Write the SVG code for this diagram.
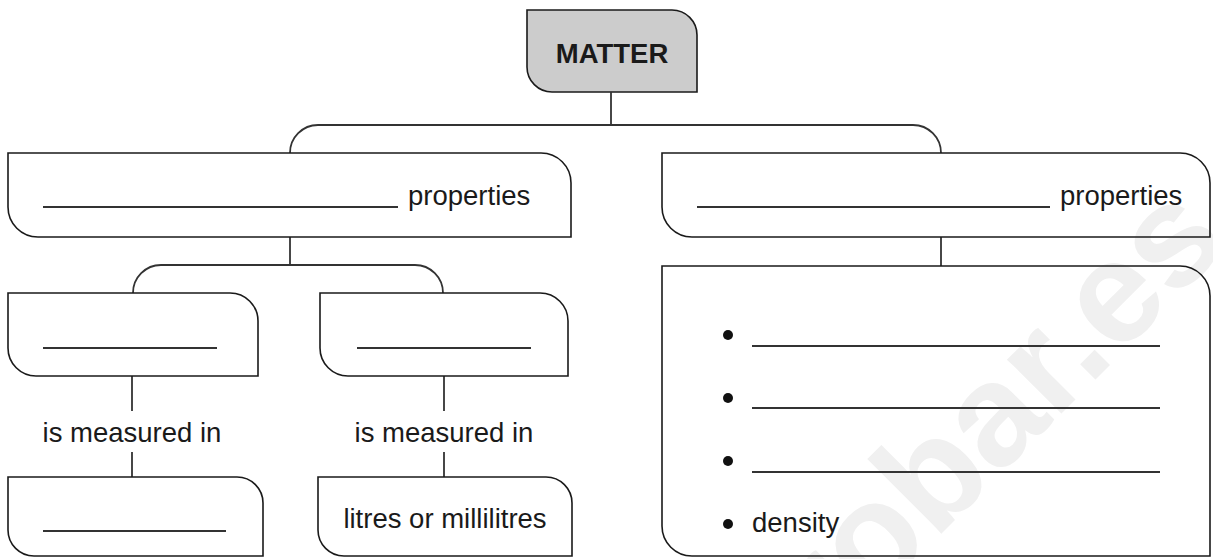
<svg xmlns="http://www.w3.org/2000/svg" width="1213" height="559" viewBox="0 0 1213 559">
<style>
.box{fill:none;stroke:#1a1a1a;stroke-width:1.6}
.conn{fill:none;stroke:#333;stroke-width:1.8}
.ul{stroke:#333;stroke-width:2}
.t{font-family:"Liberation Sans",Arial,sans-serif;font-size:27.5px;fill:#1a1a1a}
.wm{font-family:"Liberation Sans",Arial,sans-serif;font-size:145px;font-weight:bold;fill:#f0f0f0}
</style>
<rect width="1213" height="559" fill="#fff"/>
<text class="wm" transform="translate(832,643) rotate(-45)">robar.es</text>
<g id="matter">
<path d="M527,10 H672 A25,25 0 0 1 697,35 V92 H552 A25,25 0 0 1 527,67 Z" fill="#cccccc" stroke="#1a1a1a" stroke-width="1.6"/>
<text class="t" x="612" y="63" text-anchor="middle" font-weight="bold" font-size="26.5">MATTER</text>
</g>
<g id="connectors">
<path class="conn" d="M611,92 V125"/>
<path class="conn" d="M290,153 A28,28 0 0 1 318,125 H913 A28,28 0 0 1 941,153"/>
<path class="conn" d="M290,237 V265"/>
<path class="conn" d="M133,293 A28,28 0 0 1 161,265 H415 A28,28 0 0 1 443,293"/>
<path class="conn" d="M941,237 V266"/>
<path class="conn" d="M132,376 V411 M132,452 V477"/>
<path class="conn" d="M444,376 V411 M444,452 V477"/>
</g>
<g id="left-props">
<path class="box" d="M8,153 H541 A30,30 0 0 1 571,183 V237 H38 A30,30 0 0 1 8,207 Z"/>
<line class="ul" x1="43" y1="207" x2="398" y2="207"/>
<text class="t" x="408" y="205">properties</text>
</g>
<g id="right-props">
<path class="box" d="M662,153 H1180 A30,30 0 0 1 1210,183 V237 H692 A30,30 0 0 1 662,207 Z"/>
<line class="ul" x1="697" y1="207" x2="1050" y2="207"/>
<text class="t" x="1060" y="205">properties</text>
</g>
<g id="left-blank">
<path class="box" d="M8,293 H230 A28,28 0 0 1 258,321 V376 H36 A28,28 0 0 1 8,348 Z"/>
<line class="ul" x1="43" y1="348" x2="217" y2="348"/>
</g>
<g id="right-blank">
<path class="box" d="M320,293 H540 A28,28 0 0 1 568,321 V376 H348 A28,28 0 0 1 320,348 Z"/>
<line class="ul" x1="357" y1="348" x2="531" y2="348"/>
</g>
<g id="label-left"><text class="t" x="132" y="442" text-anchor="middle">is measured in</text></g>
<g id="label-right"><text class="t" x="444" y="442" text-anchor="middle">is measured in</text></g>
<g id="left-unit">
<path class="box" d="M8,477 H237 A26,26 0 0 1 263,503 V556 H34 A26,26 0 0 1 8,530 Z"/>
<line class="ul" x1="43" y1="531" x2="226" y2="531"/>
</g>
<g id="right-unit">
<path class="box" d="M318,477 H546 A26,26 0 0 1 572,503 V556 H344 A26,26 0 0 1 318,530 Z"/>
<text class="t" x="445" y="528" text-anchor="middle">litres or millilitres</text>
</g>
<g id="list">
<path class="box" d="M662,266 H1180 A30,30 0 0 1 1210,296 V556 H692 A30,30 0 0 1 662,526 Z"/>
<circle cx="728" cy="335" r="5" fill="#111"/>
<line class="ul" x1="752" y1="346" x2="1160" y2="346"/>
<circle cx="728" cy="398" r="5" fill="#111"/>
<line class="ul" x1="752" y1="408" x2="1160" y2="408"/>
<circle cx="728" cy="461" r="5" fill="#111"/>
<line class="ul" x1="752" y1="472" x2="1160" y2="472"/>
<circle cx="728" cy="524" r="5" fill="#111"/>
<text class="t" x="752" y="532">density</text>
</g>
</svg>
